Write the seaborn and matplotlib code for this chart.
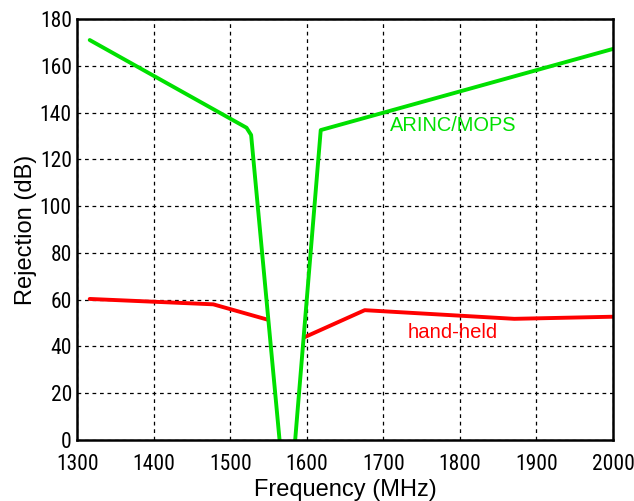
import matplotlib
matplotlib.use("Agg")
import matplotlib.pyplot as plt
from matplotlib import font_manager
import seaborn as sns
import pandas as pd
import numpy as np

# ---- data ----
green_freq = [1316, 1521, 1527, 1575, 1618, 2000]
green_db = [171.0, 133.5, 130.4, -38.0, 132.5, 167.2]

red1_freq = [1316, 1477.5, 1549]
red1_db = [60.3, 58.0, 51.4]
red2_freq = [1596.5, 1675.5, 1871, 2000]
red2_db = [43.9, 55.5, 51.8, 52.7]

x_ticks = [1300, 1400, 1500, 1600, 1700, 1800, 1900, 2000]
y_ticks = [0, 20, 40, 60, 80, 100, 120, 140, 160, 180]

sns.set_theme(style="white")
names = {f.name for f in font_manager.fontManager.ttflist}
narrow = None
for cand in ["Liberation Sans Narrow", "Roboto Condensed", "Open Sans Condensed"]:
    if cand in names:
        narrow = cand
        break
tick_size = 15.5 if narrow else 13.2
narrow = narrow or "Liberation Sans"
plt.rcParams["font.family"] = ["Liberation Sans", "DejaVu Sans"]

fig = plt.figure(figsize=(6.34, 5.01), dpi=100)
ax = fig.add_axes([0.1222, 0.1218, 0.8446, 0.8403])

GREEN = "#00e000"
RED = "#ff0000"

sns.lineplot(x=red1_freq, y=red1_db, ax=ax, color=RED, lw=2.8, sort=False)
sns.lineplot(x=red2_freq, y=red2_db, ax=ax, color=RED, lw=2.8, sort=False)
sns.lineplot(x=green_freq, y=green_db, ax=ax, color=GREEN, lw=2.8, sort=False)

ax.set_xlim(1300, 2000)
ax.set_ylim(0, 180)
ax.set_xticks(x_ticks)
ax.set_yticks(y_ticks)
ax.set_xticklabels([str(t) for t in x_ticks], fontfamily=narrow, fontsize=tick_size, color="black")
ax.set_yticklabels([str(t) for t in y_ticks], fontfamily=narrow, fontsize=tick_size, color="black")
ax.tick_params(axis="x", direction="in", length=0, pad=10)
ax.tick_params(axis="y", direction="in", length=0, pad=4)

ax.grid(True, color="black", linestyle=(0, (3, 3)), linewidth=0.9)
for s in ax.spines.values():
    s.set_color("black")
    s.set_linewidth(1.8)
    s.set_zorder(5)

ax.set_xlabel("Frequency (MHz)", fontsize=17, color="black")
ax.set_ylabel("Rejection (dB)", fontsize=17, color="black")
ax.xaxis.set_label_coords(0.501, -0.093)
ax.yaxis.set_label_coords(-0.076, 0.5)

ax.text(1709, 132.1, "ARINC/MOPS", color=GREEN, fontsize=14.4, ha="left", va="baseline")
ax.text(1731, 43.6, "hand-held", color=RED, fontsize=14.6, ha="left", va="baseline")

fig.savefig("out.png", dpi=100, facecolor="white")
